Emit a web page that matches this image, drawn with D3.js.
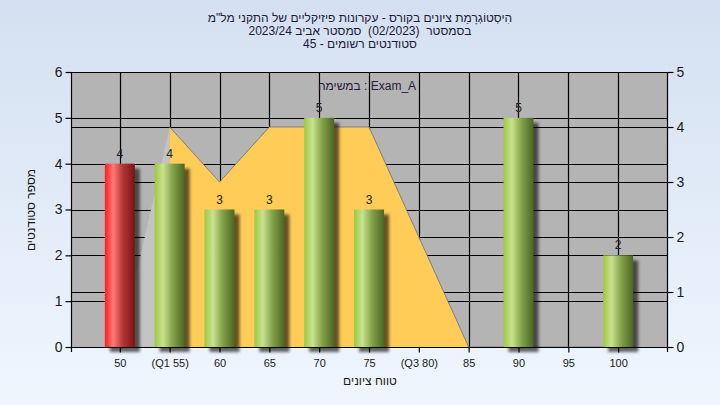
<!DOCTYPE html>
<html><head><meta charset="utf-8">
<script src="https://cdn.jsdelivr.net/npm/d3@7"></script>
<style>
html,body{margin:0;padding:0;}
body{width:720px;height:405px;overflow:hidden;}
text{font-family:"Liberation Sans",Arial,sans-serif;}
</style></head>
<body>
<svg id="chart" width="720" height="405"></svg>
<script>
const categories = ["50","(Q1 55)","60","65","70","75","(Q3 80)","85","90","95","100"];
const counts = [4,4,3,3,5,3,0,0,5,0,2];
const barKind = ["own","other","other","other","other","other","other","other","other","other","other"];
const areaValues = [0,4,3,4,4,4,2,0,0,0,0];
const leftTicks = [0,1,2,3,4,5,6];
const rightTicks = [0,1,2,3,4,5];
const titleLines = ["הִיסְטוֹגְרָמַת ציונים בקורס - עקרונות פיזיקליים של התקני מל\"מ",
                    "בסמסטר  (02/2023)  סמסטר אביב 2023/24",
                    "סטודנטים רשומים - 45"];
const legendText = "במשימה : Exam_A";
const xTitle = "טווח ציונים";
const yTitle = "מספר סטודנטים";

const svg = d3.select("#chart");
const W = 720, H = 405;
const L = 71, R = 667, T = 72, B = 347;

const defs = svg.append("defs");
const bg = defs.append("linearGradient").attr("id","bg").attr("x1",0).attr("y1",0).attr("x2",0).attr("y2",1);
bg.append("stop").attr("offset","0%").attr("stop-color","#d4e0f1");
bg.append("stop").attr("offset","100%").attr("stop-color","#eff6fe");

function cyl(id, stops){
  const g = defs.append("linearGradient").attr("id",id).attr("x1",0).attr("y1",0).attr("x2",1).attr("y2",0);
  stops.forEach(s=>g.append("stop").attr("offset",s[0]).attr("stop-color",s[1]));
}
cyl("gGreen",[["0%","#9cc943"],["28%","#c9e28f"],["60%","#83a24a"],["100%","#4b6622"]]);
cyl("gRed",[["0%","#ff1c1c"],["28%","#ff7a7a"],["60%","#b33535"],["100%","#7a1414"]]);
const blur = defs.append("filter").attr("id","blur").attr("x","-50%").attr("y","-10%").attr("width","200%").attr("height","130%");
blur.append("feGaussianBlur").attr("stdDeviation",1.6);

svg.append("rect").attr("width",W).attr("height",H).attr("fill","url(#bg)");

const x = d3.scalePoint().domain(categories).range([L,R]).padding(0.98);
const yL = d3.scaleLinear().domain([0,6]).range([B,T]);
const yR = d3.scaleLinear().domain([0,5]).range([B,T]);

// plot background
svg.append("rect").attr("x",L).attr("y",T).attr("width",R-L).attr("height",B-T).attr("fill","#b4b4b4");

// grid
const grid = svg.append("g").attr("stroke","#000").attr("stroke-width",1.2);
leftTicks.forEach(t=>grid.append("line").attr("x1",L).attr("x2",R).attr("y1",Math.round(yL(t))+0.5).attr("y2",Math.round(yL(t))+0.5));
rightTicks.forEach(t=>grid.append("line").attr("x1",L).attr("x2",R).attr("y1",Math.round(yR(t))+0.5).attr("y2",Math.round(yR(t))+0.5));
categories.forEach(c=>grid.append("line").attr("x1",Math.round(x(c))+0.5).attr("x2",Math.round(x(c))+0.5).attr("y1",T).attr("y2",B));

// area series (right axis)
const pts = categories.map((c,i)=>[x(c), yR(areaValues[i])]);
const first = [[pts[0][0],B],[pts[0][0],pts[0][1]],[pts[1][0],pts[1][1]],[pts[1][0],B]];
svg.append("path").attr("d",d3.line()(first)+"Z").attr("fill","#c3c3c3");
const rest = pts.slice(1);
const areaGen = d3.area().x(d=>d[0]).y0(B).y1(d=>d[1]);
svg.append("path").attr("d",areaGen(rest)).attr("fill","#ffcc57");
svg.append("path").attr("d",d3.line()(rest)).attr("fill","none").attr("stroke","#6e6e6e").attr("stroke-width",0.8);

// bars
const bw = 30;
const bars = svg.append("g");
categories.forEach((c,i)=>{
  const v = counts[i];
  if(v<=0) return;
  const x0 = x(c)-bw/2, y0 = yL(v);
  bars.append("rect").attr("x",x0+5).attr("y",y0+5).attr("width",bw).attr("height",B-y0)
    .attr("fill","rgba(0,0,0,0.6)").attr("filter","url(#blur)");
  bars.append("rect").attr("x",x0).attr("y",y0).attr("width",bw).attr("height",B-y0)
    .attr("fill", barKind[i]==="own" ? "url(#gRed)" : "url(#gGreen)");
  bars.append("text").attr("x",x(c)).attr("y",y0-6).attr("text-anchor","middle")
    .attr("font-size",12).attr("fill","#222").text(v);
});

// axes frame
const ax = svg.append("g").attr("stroke","#000").attr("stroke-width",1.2);
ax.append("line").attr("x1",L+0.5).attr("x2",L+0.5).attr("y1",T).attr("y2",B+5);
ax.append("line").attr("x1",R+0.5).attr("x2",R+0.5).attr("y1",T).attr("y2",B+5);
ax.append("line").attr("x1",L).attr("x2",R).attr("y1",B+0.5).attr("y2",B+0.5);
ax.append("line").attr("x1",L).attr("x2",R).attr("y1",T+0.5).attr("y2",T+0.5);

// axes
const gl = svg.append("g").attr("transform",`translate(${L+0.5},0)`)
  .call(d3.axisLeft(yL).tickValues(leftTicks).tickSize(6).tickPadding(3).tickFormat(d3.format("d")));
const gr = svg.append("g").attr("transform",`translate(${R+0.5},0)`)
  .call(d3.axisRight(yR).tickValues(rightTicks).tickSize(6).tickPadding(3).tickFormat(d3.format("d")));
const gb = svg.append("g").attr("transform",`translate(0,${B+0.5})`)
  .call(d3.axisBottom(x).tickSize(5).tickPadding(7));
[gl,gr,gb].forEach(g=>{
  g.select(".domain").remove();
  g.selectAll(".tick line").attr("stroke","#000").attr("stroke-width",1.2);
  g.selectAll("text").attr("font-family","Liberation Sans, Arial, sans-serif").attr("fill","#1a1a1a");
});
gl.selectAll("text").attr("font-size",14);
gr.selectAll("text").attr("font-size",14);
gb.selectAll("text").attr("font-size",11).attr("direction","ltr");

// titles
titleLines.forEach((t,i)=>{
  svg.append("text").attr("x",360).attr("y",22+i*13).attr("text-anchor","middle")
    .attr("direction","rtl").attr("font-size",12).attr("fill","#1b1b3a")
    .style("white-space","pre").attr("xml:space","preserve").text(t);
});
svg.append("text").attr("x",367).attr("y",90).attr("text-anchor","middle")
  .attr("font-size",12).attr("fill","#2a1a3a").text(legendText);
svg.append("text").attr("x",370).attr("y",385).attr("text-anchor","middle")
  .attr("direction","rtl").attr("font-size",12).attr("fill","#1a1a1a").text(xTitle);
svg.append("text").attr("transform","translate(35,210) rotate(-90)").attr("text-anchor","middle")
  .attr("direction","rtl").attr("font-size",12).attr("fill","#1a1a1a").text(yTitle);
</script>
</body></html>
